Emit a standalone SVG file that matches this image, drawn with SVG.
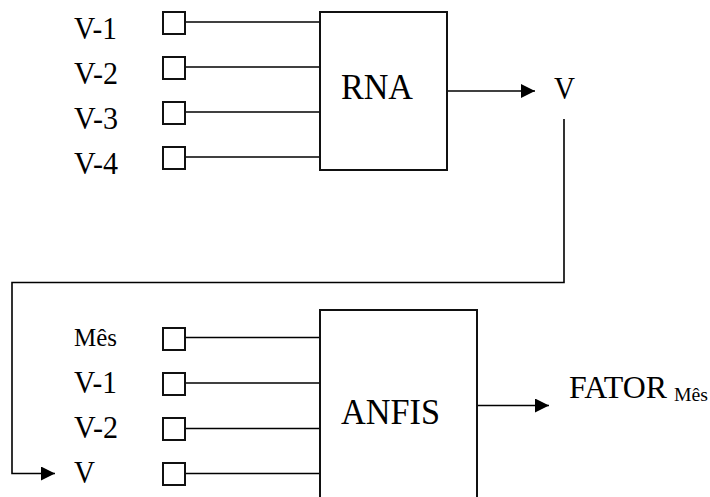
<svg xmlns="http://www.w3.org/2000/svg" width="710" height="497" viewBox="0 0 710 497">
<style>
text{font-family:'Liberation Serif','Times New Roman',serif;fill:#000}
.box{fill:#fff;stroke:#111;stroke-width:2}
.sq{fill:#fff;stroke:#111;stroke-width:2}
.ln{fill:none;stroke:#000;stroke-width:1.6}
.lbl{font-size:31px}
.big{font-size:36px}
</style>
<defs>
<marker id="ah" markerWidth="14" markerHeight="14" viewBox="0 0 14 14" refX="14" refY="7" orient="auto" markerUnits="userSpaceOnUse">
<path d="M0,0 L14,7 L0,14 Z" fill="#000"/>
</marker>
</defs>
<rect width="710" height="497" fill="#fff"/>
<g id="connectors">
<line class="ln" x1="185" y1="22" x2="320" y2="22"/>
<line class="ln" x1="185" y1="67" x2="320" y2="67"/>
<line class="ln" x1="185" y1="112" x2="320" y2="112"/>
<line class="ln" x1="185" y1="157" x2="320" y2="157"/>
<line class="ln" x1="447" y1="91" x2="535" y2="91" marker-end="url(#ah)"/>
<polyline class="ln" points="564,119 564,282.5 12,282.5 12,473.5 55,473.5" marker-end="url(#ah)"/>
<line class="ln" x1="183" y1="337.5" x2="320" y2="337.5"/>
<line class="ln" x1="183" y1="383" x2="320" y2="383"/>
<line class="ln" x1="183" y1="428.5" x2="320" y2="428.5"/>
<line class="ln" x1="183" y1="473.5" x2="320" y2="473.5"/>
<line class="ln" x1="477" y1="405.5" x2="549" y2="405.5" marker-end="url(#ah)"/>
</g>
<g id="rna-inputs">
<text class="lbl" x="74" y="39" textLength="43" lengthAdjust="spacingAndGlyphs">V-1</text>
<rect class="sq" x="163" y="12" width="22" height="22"/>
<text class="lbl" x="74" y="84" textLength="44" lengthAdjust="spacingAndGlyphs">V-2</text>
<rect class="sq" x="163" y="57" width="22" height="22"/>
<text class="lbl" x="74" y="129" textLength="44" lengthAdjust="spacingAndGlyphs">V-3</text>
<rect class="sq" x="163" y="102" width="22" height="22"/>
<text class="lbl" x="74" y="174" textLength="44" lengthAdjust="spacingAndGlyphs">V-4</text>
<rect class="sq" x="163" y="147" width="22" height="22"/>
</g>
<g id="rna">
<rect class="box" x="320" y="12" width="127" height="158"/>
<text class="big" x="341" y="99" textLength="72" lengthAdjust="spacingAndGlyphs">RNA</text>
</g>
<g id="v-out">
<text class="lbl" x="554" y="99" textLength="21" lengthAdjust="spacingAndGlyphs">V</text>
</g>
<g id="anfis-inputs">
<text x="74" y="346" style="font-size:26px" textLength="43" lengthAdjust="spacingAndGlyphs">Mês</text>
<rect class="sq" x="163" y="328" width="22" height="22"/>
<text class="lbl" x="74" y="392.5" textLength="43" lengthAdjust="spacingAndGlyphs">V-1</text>
<rect class="sq" x="163" y="373" width="22" height="22"/>
<text class="lbl" x="74" y="438" textLength="44" lengthAdjust="spacingAndGlyphs">V-2</text>
<rect class="sq" x="163" y="418" width="22" height="22"/>
<text class="lbl" x="74" y="483" textLength="21" lengthAdjust="spacingAndGlyphs">V</text>
<rect class="sq" x="163" y="463" width="22" height="22"/>
</g>
<g id="anfis">
<rect class="box" x="320" y="310" width="157" height="200"/>
<text class="big" x="341" y="424" textLength="99" lengthAdjust="spacingAndGlyphs">ANFIS</text>
</g>
<g id="fator">
<text x="569" y="398" style="font-size:31px" textLength="98" lengthAdjust="spacingAndGlyphs">FATOR</text>
<text x="674" y="400.5" style="font-size:19px" textLength="34" lengthAdjust="spacingAndGlyphs">Mês</text>
</g>
</svg>
